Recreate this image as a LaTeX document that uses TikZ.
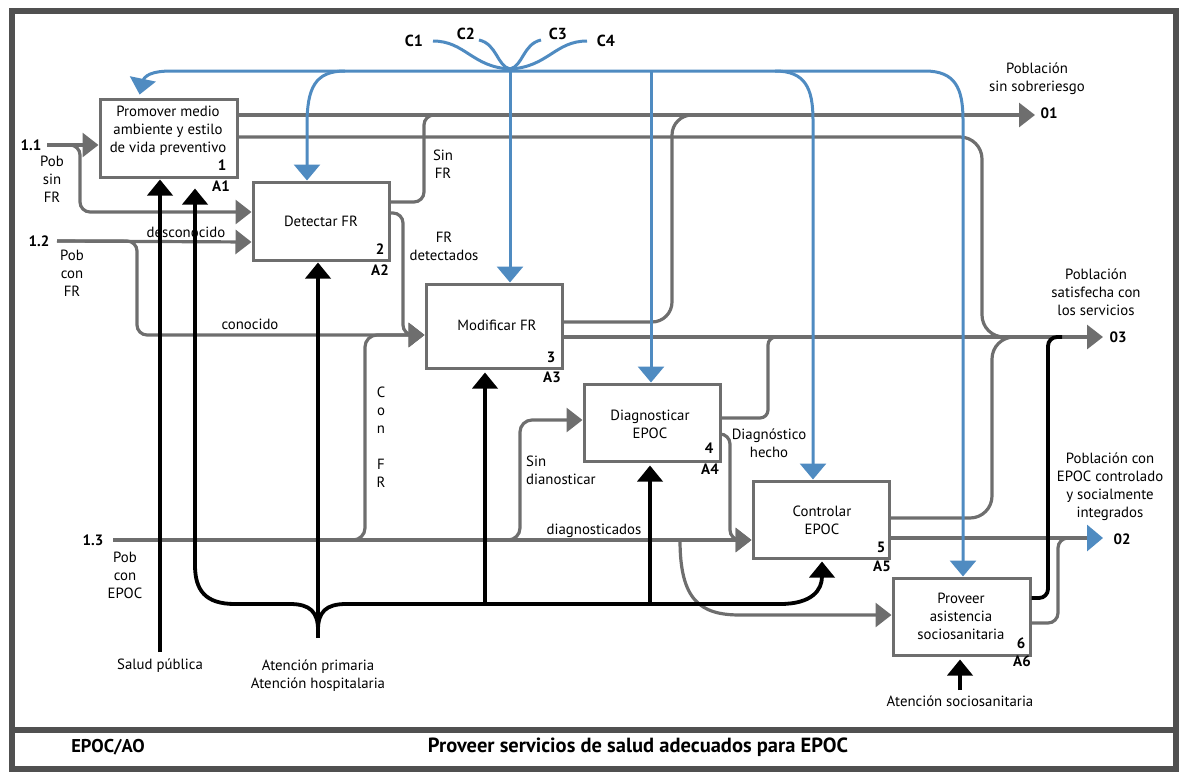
\documentclass[tikz,border=0pt]{standalone}
\usepackage{fontspec}
\setmainfont{PT Sans}
\usetikzlibrary{arrows.meta}
\definecolor{gcol}{HTML}{6E6E6E}
\definecolor{fcol}{HTML}{505050}
\definecolor{bcol}{HTML}{4F8BC1}
\tikzset{
  proc/.style={draw=gcol, line width=3pt, inner sep=0pt},
  gl/.style={draw=gcol, line width=3.2pt},
  ga/.style={gl, -{Triangle[length=16pt,width=24pt]}},
  kl/.style={draw=black, line width=3.8pt},
  ka/.style={kl, -{Triangle[length=16pt,width=25pt]}},
  bl/.style={draw=bcol, line width=3pt},
  ba/.style={bl, -{Triangle[length=16pt,width=26pt]}},
  txt/.style={font=\fontsize{14.8}{18}\selectfont, align=center, inner sep=0pt},
  bt/.style={font=\fontsize{15}{18}\selectfont\bfseries, inner sep=0pt},
}
\begin{document}
\begin{tikzpicture}[x=1pt,y=-1pt]
\useasboundingbox (0,0) rectangle (1183,772);
% frame
\draw[fcol, line width=5.5pt] (12,11) rectangle (1176,769);
\draw[fcol, line width=5.5pt] (12,730) -- (1176,730);
\node[font=\fontsize{18.5}{20}\selectfont\bfseries, inner sep=0pt] (ttl1) at (108,747) {EPOC/AO};
\node[font=\fontsize{20.5}{22}\selectfont\bfseries, inner sep=0pt] (ttl2) at (638,747) {Proveer servicios de salud adecuados para EPOC};

% boxes
\node[proc, minimum width=137pt, minimum height=78pt] (a1) at (168.5,138) {};
\node[proc, minimum width=136pt, minimum height=78pt] (a2) at (321,221) {};
\node[proc, minimum width=136pt, minimum height=84pt] (a3) at (494,326) {};
\node[proc, minimum width=136pt, minimum height=77pt] (a4) at (652,422.5) {};
\node[proc, minimum width=136pt, minimum height=77pt] (a5) at (821,519.5) {};
\node[proc, minimum width=137pt, minimum height=77pt] (a6) at (961.5,616.5) {};

\node[txt] (t1) at (168,131) {Promover medio\\ambiente y estilo\\de vida preventivo};
\node[txt] (t2) at (321,221) {Detectar FR};
\node[txt] (t3) at (497,325) {Modificar FR};
\node[txt] (t4) at (650,424.5) {Diagnosticar\\EPOC};
\node[txt] (t5) at (822,520) {Controlar\\EPOC};
\node[txt] (t6) at (961,616) {Proveer\\asistencia\\sociosanitaria};

\node[bt] (n1) at (222,165) {1};  \node[bt] (l1) at (221,186) {A1};
\node[bt] (n2) at (380,249) {2};  \node[bt] (l2) at (380,270) {A2};
\node[bt] (n3) at (551,357) {3};  \node[bt] (l3) at (552,377) {A3};
\node[bt] (n4) at (709,448) {4};  \node[bt] (l4) at (710,469) {A4};
\node[bt] (n5) at (881,547) {5};  \node[bt] (l5) at (882,566) {A5};
\node[bt] (n6) at (1021,643) {6}; \node[bt] (l6) at (1022,661) {A6};

% labels
\node[bt] (i11) at (31,145) {1.1};
\node[txt] (p11) at (52,179) {Pob\\sin\\FR};
\node[bt] (i12) at (39,241) {1.2};
\node[txt] (p12) at (72,273) {Pob\\con\\FR};
\node[bt] (i13) at (93,540) {1.3};
\node[txt] (p13) at (125,575) {Pob\\con\\EPOC};
\node[txt] (desc) at (186,232) {desconocido};
\node[txt] (cono) at (250,324) {conocido};
\node[txt] (sinfr) at (443,164) {Sin\\FR};
\node[txt] (frdet) at (444,246) {FR\\detectados};
\node[txt] (confr) at (381,437) {C\\o\\n\\[18pt]F\\R};
\node[txt, align=left, anchor=west] (sindx) at (526,470) {Sin\\dianosticar};
\node[txt] (diagn) at (594,531) {diagnosticados};
\node[txt] (dxh) at (769,443.5) {Diagnóstico\\hecho};
\node[txt] (salud) at (160,666) {Salud pública};
\node[txt] (aten) at (318,676) {Atención primaria\\Atención hospitalaria};
\node[txt] (atsoc) at (960,701) {Atención sociosanitaria};
\node[txt] (pob1) at (1037,78.5) {Población\\sin sobreriesgo};
\node[bt] (o1l) at (1049,113) {01};
\node[txt] (pob3) at (1096,292.5) {Población\\satisfecha con\\los servicios};
\node[bt] (o3l) at (1118,337) {03};
\node[txt] (pob2) at (1110,486.5) {Población con\\EPOC controlado\\y socialmente\\integrados};
\node[bt] (o2l) at (1122,539) {02};
\node[font=\fontsize{16}{18}\selectfont\bfseries, inner sep=0pt] (lc1) at (414,41) {C1};
\node[font=\fontsize{16}{18}\selectfont\bfseries, inner sep=0pt] (lc2) at (466,34) {C2};
\node[font=\fontsize{16}{18}\selectfont\bfseries, inner sep=0pt] (lc3) at (558,34) {C3};
\node[font=\fontsize{16}{18}\selectfont\bfseries, inner sep=0pt] (lc4) at (606,41) {C4};

% coordinates
\coordinate (in11) at (47,145);
\coordinate (in12) at (57,241);
\coordinate (in13) at (113,540);
\coordinate (s13) at (680,540);
\coordinate (o1) at (1035,115);
\coordinate (o3) at (1103,337);
\coordinate (o2) at (1103,538);
\coordinate (sp) at (160,652);
\coordinate (ap) at (318,638);
\coordinate (as) at (960,690);
\coordinate (c1) at (433,41);
\coordinate (c2) at (479,40);
\coordinate (c3) at (541,40);
\coordinate (c4) at (587,41);
\coordinate (m) at (510,69);

% gray flows
\draw[ga] (in11) -- (a1.west |- 0,145);
\draw[ga, rounded corners=10pt] (in11) -- (80,145) -- (80,212) -- (a2.west |- 0,212);
\draw[ga] (in12) -- (a2.west |- 0,242);
\draw[ga, rounded corners=10pt] (in12) -- (137,241) -- (137,335) -- (a3.west |- 0,335);
\draw[ga, rounded corners=10pt] (a2.east |- 0,213) -- (403,213) -- (403,335) -- (a3.west |- 0,335);
\draw[ga, rounded corners=12pt] (in13) -- (365,540) -- (365,335) -- (a3.west |- 0,335);
\draw[ga, rounded corners=12pt] (in13) -- (520,540) -- (520,420) -- (a4.west |- 0,420);
\draw[ga] (in13) -- (a5.west |- 0,540);
\draw[ga, rounded corners=10pt] (a4.east |- 0,434) -- (730,434) -- (730,540) -- (a5.west |- 0,540);
\draw[ga] (s13) .. controls (680,600) and (700,615) .. (740,615) -- (a6.west |- 0,615);

\draw[ga] (a1.east |- 0,115) -- (o1);
\draw[gl, rounded corners=10pt] (a2.east |- 0,202) -- (424,202) -- (424,115) -- (450,115);
\draw[gl, rounded corners=20pt] (a3.east |- 0,322) -- (672,322) -- (672,115) -- (710,115);
\draw[gl, rounded corners=22pt] (a1.east |- 0,137) -- (982,137) -- (982,337) -- (1020,337);
\draw[ga] (a3.east |- 0,337) -- (o3);
\draw[gl, rounded corners=8pt] (a4.east |- 0,418) -- (768,418) -- (768,337) -- (790,337);
\draw[gl, rounded corners=22pt] (a5.east |- 0,518) -- (992,518) -- (992,337) -- (1030,337);
\draw[gl, -{Triangle[length=16pt,width=26pt,color=bcol]}] (a5.east |- 0,538) -- (o2);
\draw[gl, rounded corners=10pt] (a6.east |- 0,623) -- (1058,623) -- (1058,538) -- (1075,538);

% black mechanisms
\draw[ka, shorten >=1pt] (sp) -- (a1.south -| sp);
\draw[ka, shorten >=1pt] (ap) -- (a2.south -| ap);
\draw[ka, shorten >=10pt] (318,630) .. controls (318,612) and (310,604) .. (290,604) -- (235,604) .. controls (205,604) and (195,590) .. (195,565) -- (a1.south -| 195,0);
\draw[ka, shorten >=2pt] (318,630) .. controls (318,612) and (326,604) .. (346,604) -- (780,604) .. controls (812,604) and (822,590) .. (a5.south -| 822,0);
\draw[ka, shorten >=3pt] (485,604) -- (a3.south -| 485,0);
\draw[ka, shorten >=3pt] (650,604) -- (a4.south -| 650,0);
\draw[ka, shorten >=3pt] (as) -- (a6.south -| as);
\draw[kl, rounded corners=9pt] (a6.east |- 0,598) -- (1048,598) -- (1048,337) -- (1062,337);

% blue controls
\draw[bl] (c1) .. controls (465,41) and (472,67) .. (m);
\draw[bl] (c2) .. controls (497,44) and (497,66) .. (m);
\draw[bl] (c3) .. controls (523,44) and (523,66) .. (m);
\draw[bl] (c4) .. controls (555,41) and (548,67) .. (m);
\draw[ba] (m) -- (a3.north -| m);
\draw[ba, shorten >=3pt] (510,71) -- (172,71) .. controls (152,71) and (144,75) .. (142,83) -- (a1.north -| 139,0);
\draw[ba] (345,71) .. controls (315,71) and (307,88) .. (307,125) -- (a2.north -| 307,0);
\draw[ba] (651,71) -- (a4.north -| 651,0);
\draw[ba] (510,71) -- (775,71) .. controls (805,71) and (813,88) .. (813,120) -- (a5.north -| 813,0);
\draw[ba] (775,71) -- (925,71) .. controls (955,71) and (963,88) .. (963,120) -- (a6.north -| 963,0);
\end{tikzpicture}
\end{document}
